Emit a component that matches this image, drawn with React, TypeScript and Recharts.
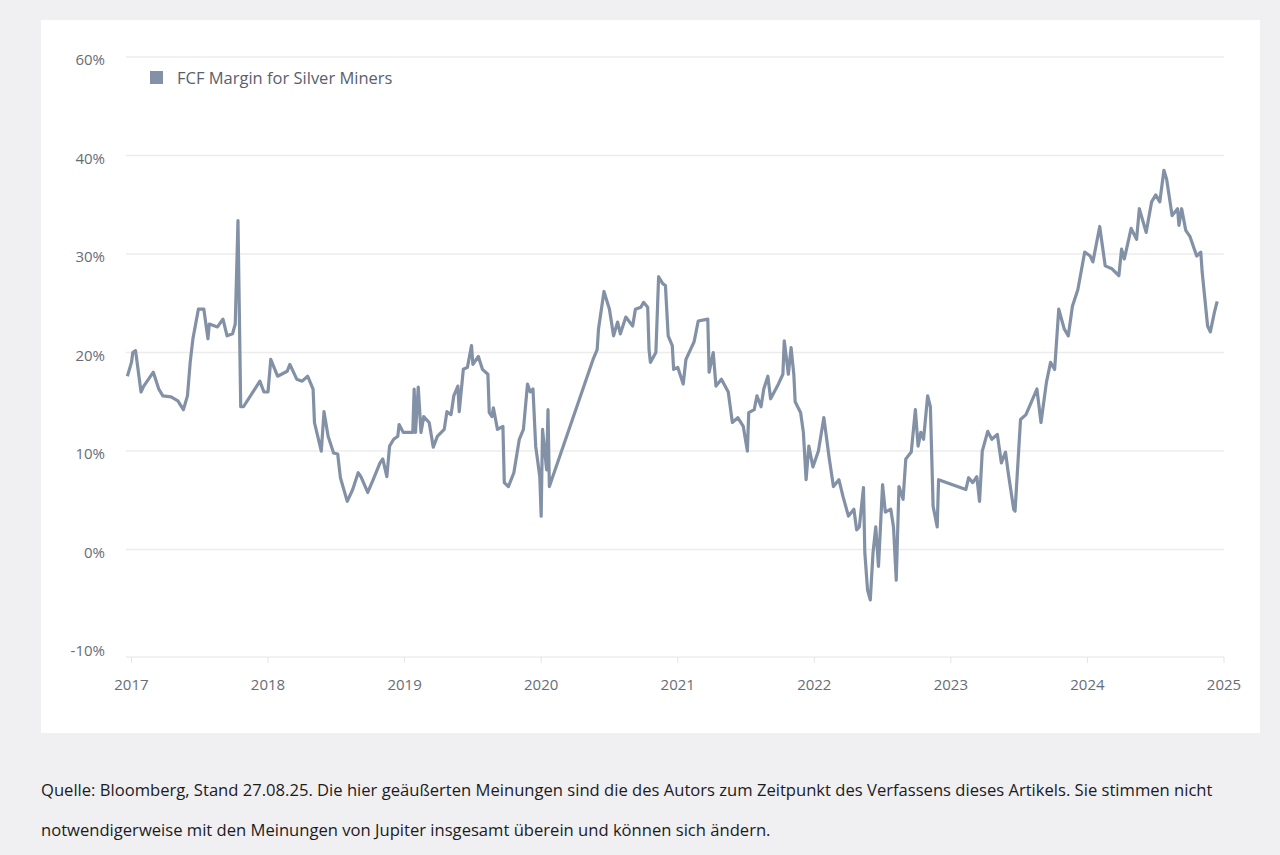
import { CartesianGrid, Legend, Line, LineChart, XAxis, YAxis } from "recharts"

// decimal years
const years = [
  2016.97, 2017.0, 2017.01, 2017.03, 2017.07, 2017.09, 2017.14, 2017.16, 2017.2, 2017.23,
  2017.29, 2017.34, 2017.38, 2017.41, 2017.43, 2017.45, 2017.49, 2017.53, 2017.56, 2017.57,
  2017.63, 2017.67, 2017.7, 2017.74, 2017.76, 2017.78, 2017.8, 2017.82, 2017.89, 2017.94,
  2017.97, 2018.0, 2018.02, 2018.07, 2018.14, 2018.16, 2018.21, 2018.25, 2018.29, 2018.33,
  2018.34, 2018.39, 2018.41, 2018.44, 2018.48, 2018.51, 2018.53, 2018.58, 2018.62, 2018.66,
  2018.68, 2018.73, 2018.77, 2018.82, 2018.84, 2018.87, 2018.89, 2018.92, 2018.95, 2018.96,
  2018.99, 2019.06, 2019.07, 2019.08, 2019.1, 2019.12, 2019.14, 2019.18, 2019.21, 2019.24,
  2019.29, 2019.31, 2019.34, 2019.36, 2019.39, 2019.4, 2019.43, 2019.46, 2019.49, 2019.5,
  2019.54, 2019.57, 2019.61, 2019.62, 2019.64, 2019.65, 2019.68, 2019.72, 2019.73, 2019.76,
  2019.8, 2019.84, 2019.87, 2019.9, 2019.92, 2019.94, 2019.96, 2019.99, 2020.0, 2020.01,
  2020.04, 2020.05, 2020.06, 2020.38, 2020.41, 2020.42, 2020.46, 2020.5, 2020.53, 2020.56,
  2020.58, 2020.62, 2020.67, 2020.69, 2020.73, 2020.75, 2020.78, 2020.79, 2020.8, 2020.84,
  2020.86, 2020.89, 2020.91, 2020.93, 2020.96, 2020.97, 2021.0, 2021.04, 2021.06, 2021.1,
  2021.12, 2021.15, 2021.22, 2021.23, 2021.26, 2021.28, 2021.32, 2021.37, 2021.4, 2021.44,
  2021.48, 2021.51, 2021.52, 2021.56, 2021.58, 2021.61, 2021.63, 2021.66, 2021.68, 2021.73,
  2021.77, 2021.78, 2021.81, 2021.83, 2021.85, 2021.86, 2021.9, 2021.92, 2021.94, 2021.96,
  2021.99, 2022.03, 2022.07, 2022.11, 2022.14, 2022.18, 2022.21, 2022.25, 2022.29, 2022.31,
  2022.33, 2022.36, 2022.37, 2022.39, 2022.41, 2022.43, 2022.45, 2022.47, 2022.5, 2022.52,
  2022.56, 2022.58, 2022.6, 2022.62, 2022.65, 2022.67, 2022.71, 2022.74, 2022.76, 2022.78,
  2022.8, 2022.83, 2022.85, 2022.87, 2022.9, 2022.91, 2023.11, 2023.13, 2023.16, 2023.19,
  2023.21, 2023.23, 2023.27, 2023.3, 2023.34, 2023.37, 2023.4, 2023.42, 2023.46, 2023.47,
  2023.51, 2023.55, 2023.59, 2023.63, 2023.66, 2023.7, 2023.73, 2023.76, 2023.79, 2023.83,
  2023.86, 2023.89, 2023.93, 2023.98, 2024.02, 2024.04, 2024.09, 2024.11, 2024.13, 2024.18,
  2024.23, 2024.25, 2024.27, 2024.32, 2024.36, 2024.38, 2024.43, 2024.47, 2024.5, 2024.53,
  2024.56, 2024.58, 2024.62, 2024.66, 2024.67, 2024.69, 2024.72, 2024.75, 2024.8, 2024.83,
  2024.84, 2024.88, 2024.9, 2024.93, 2024.95,
]

// FCF margin in percent
const fcfMargin = [
  17.6, 19.0, 20.0, 20.2, 16.0, 16.6, 17.6, 18.0, 16.3, 15.6,
  15.5, 15.1, 14.2, 15.6, 19.0, 21.4, 24.4, 24.4, 21.4, 22.9,
  22.6, 23.4, 21.7, 21.9, 22.9, 33.4, 14.5, 14.5, 16.0, 17.1,
  16.0, 16.0, 19.3, 17.6, 18.1, 18.8, 17.3, 17.1, 17.6, 16.3,
  12.9, 10.0, 14.0, 11.5, 9.8, 9.7, 7.3, 4.9, 6.1, 7.8,
  7.4, 5.8, 7.1, 8.8, 9.2, 7.4, 10.5, 11.2, 11.5, 12.7,
  11.9, 11.9, 16.3, 11.9, 16.5, 11.9, 13.5, 12.9, 10.4, 11.5,
  12.2, 14.0, 13.7, 15.6, 16.6, 14.0, 18.3, 18.5, 20.7, 18.8,
  19.6, 18.3, 17.8, 13.9, 13.5, 14.4, 12.2, 12.5, 6.8, 6.4,
  7.8, 11.2, 12.2, 16.8, 16.0, 16.3, 10.5, 7.4, 3.4, 12.2,
  8.1, 14.2, 6.4, 19.3, 20.3, 22.4, 26.2, 24.4, 21.7, 23.1,
  21.9, 23.6, 22.7, 24.4, 24.6, 25.1, 24.6, 20.3, 19.0, 20.0,
  27.7, 27.0, 26.8, 21.7, 20.7, 18.3, 18.5, 16.8, 19.3, 20.5,
  21.1, 23.2, 23.4, 18.0, 20.0, 16.6, 17.3, 16.0, 12.9, 13.4,
  12.5, 10.0, 13.9, 14.2, 15.6, 14.5, 16.3, 17.6, 15.3, 16.6,
  17.8, 21.2, 17.8, 20.5, 17.8, 15.0, 13.9, 11.9, 7.1, 10.5,
  8.4, 10.0, 13.4, 9.2, 6.4, 7.1, 5.4, 3.4, 4.1, 2.0,
  2.3, 6.3, -0.3, -4.1, -5.1, -0.3, 2.3, -1.7, 6.6, 3.8,
  4.1, 2.3, -3.1, 6.4, 5.1, 9.2, 9.9, 14.2, 10.5, 11.9,
  11.2, 15.6, 14.5, 4.4, 2.3, 7.1, 6.1, 7.3, 6.8, 7.4,
  4.9, 10.0, 12.0, 11.2, 11.7, 8.8, 9.9, 7.8, 4.1, 3.9,
  13.2, 13.7, 15.0, 16.3, 12.9, 17.0, 19.0, 18.3, 24.4, 22.4,
  21.7, 24.7, 26.4, 30.2, 29.8, 29.2, 32.8, 30.8, 28.8, 28.5,
  27.8, 30.5, 29.5, 32.6, 31.5, 34.6, 32.2, 35.3, 36.0, 35.3,
  38.5, 37.6, 33.9, 34.6, 32.9, 34.6, 32.4, 31.8, 29.8, 30.2,
  28.2, 22.7, 22.1, 24.1, 25.2,
]

const yearTicks = [2017, 2018, 2019, 2020, 2021, 2022, 2023, 2024, 2025]
const yTickValues = [-10, 0, 10, 20, 30, 40, 50]
const yTickLabels = ["-10%", "0%", "10%", "20%", "30%", "40%", "60%"]

const seriesName = "FCF Margin for Silver Miners"
const footnote = [
  "Quelle: Bloomberg, Stand 27.08.25. Die hier geäußerten Meinungen sind die des Autors zum Zeitpunkt des Verfassens dieses Artikels. Sie stimmen nicht",
  "notwendigerweise mit den Meinungen von Jupiter insgesamt überein und können sich ändern.",
]

const data = years.map((t, i) => ({ t, v: fcfMargin[i] }))

const LINE = "#8391a6"
const FONT = "'Open Sans', sans-serif"

const YTick = (props: any) => {
  const { x, y, index } = props
  return (
    <text x={x} y={y + 3} dy="0.355em" textAnchor="end" fontSize={15} fill="#676d78" fontFamily={FONT}>
      {yTickLabels[index]}
    </text>
  )
}

const LegendBox = () => (
  <div style={{ display: "flex", alignItems: "center", fontFamily: FONT, fontSize: 16.5, color: "#596070", whiteSpace: "nowrap" }}>
    <span style={{ width: 13, height: 13, background: LINE, display: "inline-block", marginRight: 14 }} />
    {seriesName}
  </div>
)

export default function App() {
  return (
    <div style={{ position: "fixed", left: 0, top: 0, width: 1280, height: 855, background: "#f0eff2" }}>
      <div style={{ position: "absolute", left: 41, top: 20, width: 1219, height: 713, background: "#fff" }}>
        <LineChart width={1219} height={713} data={data} margin={{ top: 37, right: 36, bottom: 43, left: 0 }}>
          <CartesianGrid vertical={false} horizontalValues={[0, 10, 20, 30, 40, 50]} stroke="#ececec" strokeWidth={1.5} />
          <XAxis
            dataKey="t"
            type="number"
            domain={[2016.96, 2025]}
            ticks={yearTicks}
            tickFormatter={(v) => String(v)}
            axisLine={{ stroke: "#e4e4e4" }}
            tickLine={{ stroke: "#e4e4e4" }}
            tickSize={6}
            tickMargin={16}
            height={33}
            tick={{ fontSize: 15, fill: "#676d78", fontFamily: FONT }}
          />
          <YAxis
            type="number"
            domain={[-10.9, 50]}
            ticks={yTickValues}
            width={85}
            axisLine={false}
            tickLine={false}
            tickSize={0}
            tickMargin={21}
            tick={<YTick />}
            interval={0}
          />
          <Legend
            layout="horizontal"
            verticalAlign="middle"
            align="center"
            content={<LegendBox />}
            wrapperStyle={{ position: "absolute", top: 46, left: 109, width: "auto" }}
          />
          <Line
            type="linear"
            dataKey="v"
            name={seriesName}
            stroke={LINE}
            strokeWidth={3.2}
            strokeLinejoin="round"
            dot={false}
            isAnimationActive={false}
          />
        </LineChart>
      </div>
      <div style={{ position: "absolute", left: 41, top: 770, fontFamily: FONT, fontSize: 16.6, color: "#1c1c1c", lineHeight: "40px" }}>
        {footnote.map((l) => (
          <div key={l} style={{ whiteSpace: "nowrap" }}>{l}</div>
        ))}
      </div>
    </div>
  )
}
